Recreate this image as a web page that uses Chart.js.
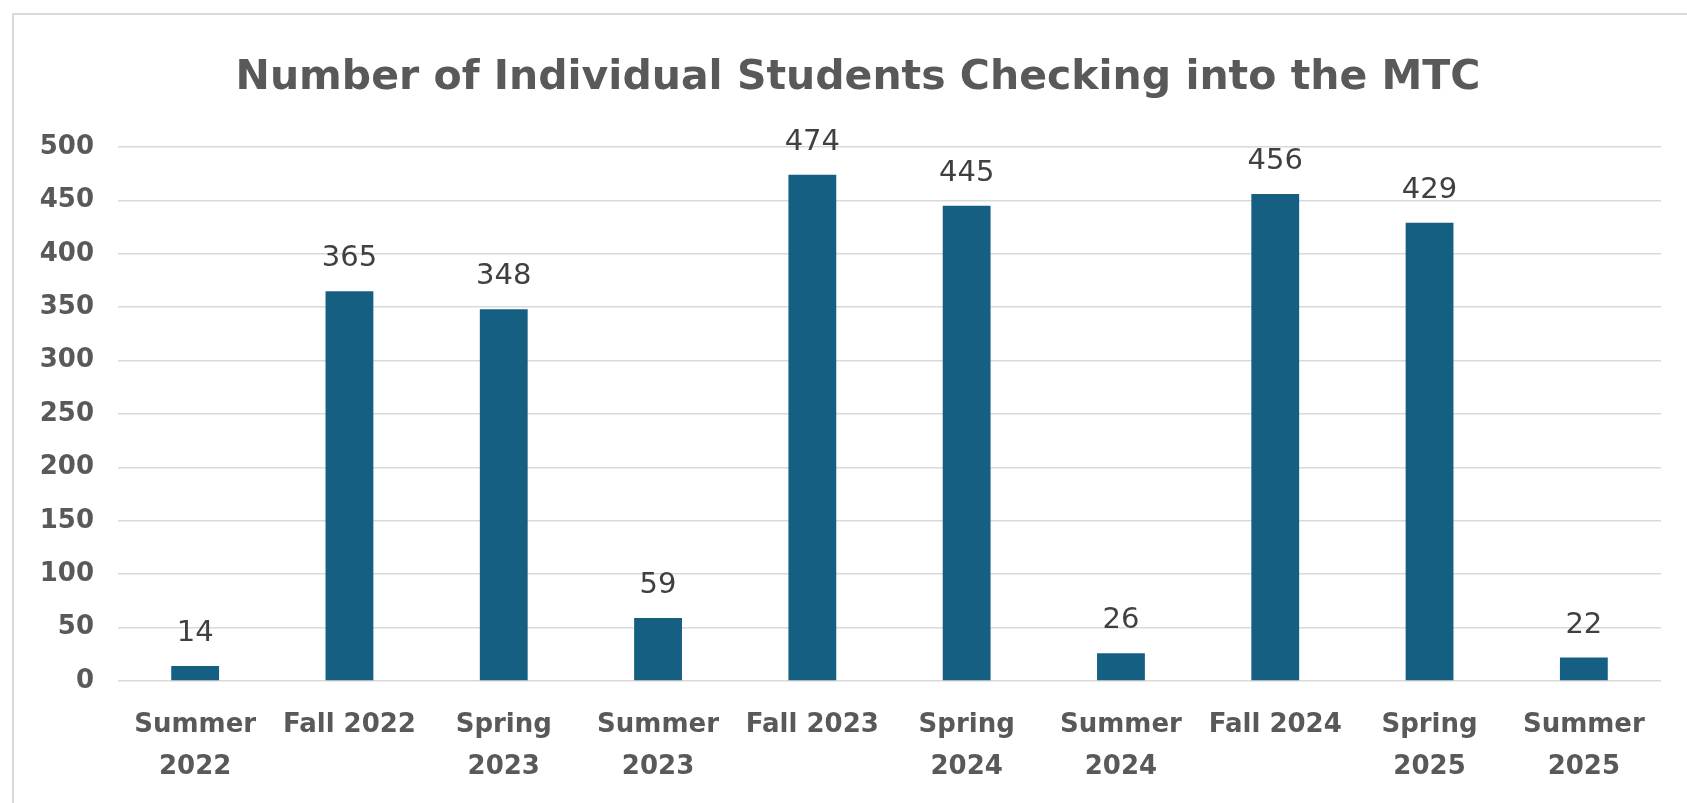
<!DOCTYPE html>
<html>
<head>
<meta charset="utf-8">
<script src="https://cdn.jsdelivr.net/npm/chart.js@4.4.1/dist/chart.umd.min.js"></script>
<style>
  html, body { margin: 0; padding: 0; background: #ffffff; overflow: hidden; }
  #marco { position: absolute; left: 12px; top: 13px; width: 1720px; height: 820px;
           border: 2px solid #d9d9d9; box-sizing: border-box; pointer-events: none; }
  #grafico { position: absolute; left: 0; top: 0; }
</style>
</head>
<body>
<canvas id="grafico" width="1687" height="803"></canvas>
<div id="marco"></div>
<script>
// datos del grafico
var periodos = [
    ['Summer', '2022'], 'Fall 2022', ['Spring', '2023'], ['Summer', '2023'], 'Fall 2023',
    ['Spring', '2024'], ['Summer', '2024'], 'Fall 2024', ['Spring', '2025'], ['Summer', '2025']
];
var estudiantes = [14, 365, 348, 59, 474, 445, 26, 456, 429, 22];
var marcasY = [0, 50, 100, 150, 200, 250, 300, 350, 400, 450, 500];

var titulo = 'Number of Individual Students Checking into the MTC';
var fuente = '"DejaVu Sans", Arial, sans-serif';

// escribe el valor encima de cada barra
var etiquetasValor = {
    id: 'etiquetasValor',
    afterDatasetsDraw: function (chart) {
        var ctx = chart.ctx;
        var meta = chart.getDatasetMeta(0);
        ctx.save();
        ctx.font = '29px ' + fuente;
        ctx.fillStyle = '#404040';
        ctx.textAlign = 'center';
        ctx.textBaseline = 'alphabetic';
        meta.data.forEach(function (barra, i) {
            ctx.fillText(String(estudiantes[i]), barra.x, barra.y - 25);
        });
        ctx.restore();
    }
};

// el titulo va un poco a la derecha del centro, como en Excel
var tituloExcel = {
    id: 'tituloExcel',
    afterDraw: function (chart) {
        var ctx = chart.ctx;
        ctx.save();
        ctx.font = 'bold 41px ' + fuente;
        ctx.fillStyle = '#595959';
        ctx.textAlign = 'center';
        ctx.textBaseline = 'alphabetic';
        ctx.fillText(titulo, 858, 89);
        ctx.restore();
    }
};

var ctx = document.getElementById('grafico').getContext('2d');
var chart = new Chart(ctx, {
    type: 'bar',
    data: {
        labels: periodos,
        datasets: [{
            label: 'Students',
            data: estudiantes,
            backgroundColor: '#156082',
            borderWidth: 0,
            categoryPercentage: 1,
            barPercentage: 0.31
        }]
    },
    plugins: [etiquetasValor, tituloExcel],
    options: {
        responsive: false,
        animation: false,
        devicePixelRatio: 1,
        layout: { padding: { left: 0, right: 26, top: 147, bottom: 17 } },
        plugins: {
            legend: { display: false },
            tooltip: { enabled: false },
            title: { display: false }
        },
        scales: {
            x: {
                afterFit: function (escala) { escala.height = 105; },
                grid: { display: false, drawTicks: false },
                border: { display: false },
                ticks: {
                    color: '#595959',
                    padding: 23,
                    maxRotation: 0,
                    autoSkip: false,
                    font: { family: fuente, size: 26, weight: 'bold', lineHeight: 1.62 }
                }
            },
            y: {
                min: 0,
                max: 500,
                afterFit: function (escala) { escala.width = 118; },
                afterBuildTicks: function (escala) {
                    escala.ticks = marcasY.map(function (v) { return { value: v }; });
                },
                grid: { color: '#d9d9d9', lineWidth: 1.5, drawTicks: false },
                border: { display: false },
                ticks: {
                    color: '#595959',
                    padding: 24,
                    font: { family: fuente, size: 26, weight: 'bold' }
                }
            }
        }
    }
});
</script>
</body>
</html>
